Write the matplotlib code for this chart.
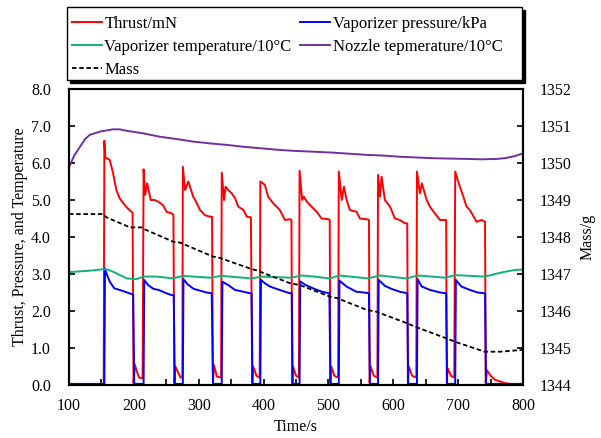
import matplotlib
matplotlib.use('Agg')
import matplotlib.pyplot as plt
from matplotlib.patches import Rectangle
from matplotlib.ticker import MultipleLocator

plt.rcParams['font.family'] = ['Liberation Serif', 'DejaVu Serif']
plt.rcParams['font.size'] = 11.5

# Thrust/mN (red)
t_thrust = [100, 153.5, 154.5, 156, 158, 163, 168, 173, 178, 186, 193, 198, 199.5, 201.5, 204, 208, 213.5,
            215, 217.5, 220.5, 226, 232, 238, 245, 250.5, 258, 261, 262.5, 264, 268, 272, 274.8,
            275.5, 279, 284, 291.5, 296, 302, 309.5, 317, 320.5, 322, 323.5, 328, 334.5,
            335.5, 339, 341.5, 345.5, 351, 356, 361, 369, 374, 380.5, 382.5, 384, 389, 394,
            395, 402, 407, 415, 425, 433, 441, 443, 444, 445.5, 450, 454.5,
            455.5, 459.5, 462, 467, 474, 482, 489.5, 500, 502, 503, 504.5, 509, 515,
            516, 520.5, 524, 528, 533, 543.5, 548.5, 559, 562.5, 563.5, 565, 570, 575.5,
            576.5, 579.5, 582, 587, 595, 602.5, 610, 618, 621.5, 622.5, 624, 629, 635.5,
            636.5, 641, 644, 651.5, 656.5, 664, 672, 681.5, 682.5, 684, 689, 694,
            695.5, 700, 708, 713, 718, 728.5, 736, 741.5, 742.5, 744.5, 750, 757, 772, 785, 800]
thrust = [0.0, 0.0, 6.6, 6.15, 6.13, 6.08, 5.72, 5.27, 5.05, 4.86, 4.73, 4.66, 0.05, 0.55, 0.4, 0.2, 0.18,
          5.83, 5.14, 5.45, 5.0, 5.0, 4.95, 4.86, 4.68, 4.64, 4.6, 0.05, 0.5, 0.35, 0.2, 0.2,
          5.9, 5.27, 5.5, 5.09, 4.95, 4.73, 4.59, 4.55, 4.55, 0.05, 0.54, 0.23, 0.2,
          5.74, 5.0, 5.36, 5.27, 5.18, 5.05, 4.82, 4.73, 4.55, 4.53, 0.05, 0.5, 0.25, 0.2,
          5.5, 5.41, 5.09, 4.91, 4.73, 4.46, 4.48, 4.46, 0.05, 0.5, 0.25, 0.2,
          5.79, 5.0, 5.09, 4.95, 4.82, 4.68, 4.5, 4.48, 4.46, 0.05, 0.5, 0.25, 0.2,
          5.77, 5.0, 5.36, 5.0, 4.73, 4.68, 4.5, 4.48, 4.46, 0.05, 0.5, 0.25, 0.2,
          5.68, 5.09, 5.63, 5.0, 4.82, 4.5, 4.46, 4.37, 4.37, 0.05, 0.5, 0.25, 0.2,
          5.77, 5.18, 5.45, 5.0, 4.82, 4.64, 4.46, 4.46, 0.05, 0.45, 0.25, 0.2,
          5.77, 5.5, 5.09, 4.82, 4.73, 4.41, 4.46, 4.41, 0.05, 0.4, 0.25, 0.14, 0.05, 0.02, 0.02]

# Vaporizer pressure/kPa (blue)
t_press = [100, 154.5, 155.5, 158, 163, 170, 178, 188, 196, 199, 200.5,
           215, 216, 222, 230, 238, 250, 258, 261.5, 263,
           275.5, 276.5, 283, 292, 302, 312, 320, 322,
           335.5, 336.5, 345.5, 356, 369, 379, 381.5, 383,
           395, 396, 402, 410, 418, 433, 441, 443.5, 445,
           455.5, 456.5, 465, 478, 490, 501.5, 503,
           516, 517, 528, 543, 555, 562.5, 564,
           576.5, 577.5, 587, 597, 610, 621.5, 623,
           636.5, 637.5, 644, 656.5, 672, 681.5, 683,
           695.5, 696.5, 705, 718, 730, 741.5, 743, 800]
press = [0.03, 0.03, 3.15, 3.0, 2.79, 2.61, 2.57, 2.51, 2.46, 2.45, 0.03,
         0.03, 2.84, 2.7, 2.6, 2.57, 2.48, 2.43, 2.43, 0.03,
         0.03, 2.86, 2.72, 2.6, 2.55, 2.5, 2.48, 0.03,
         0.03, 2.79, 2.7, 2.57, 2.52, 2.48, 2.48, 0.03,
         0.03, 2.84, 2.75, 2.66, 2.61, 2.52, 2.48, 2.48, 0.03,
         0.03, 2.8, 2.7, 2.6, 2.52, 2.48, 0.03,
         0.03, 2.82, 2.66, 2.52, 2.5, 2.48, 0.03,
         0.03, 2.84, 2.68, 2.6, 2.52, 2.48, 0.03,
         0.03, 2.86, 2.66, 2.57, 2.5, 2.48, 0.03,
         0.03, 2.84, 2.66, 2.57, 2.5, 2.48, 0.03, 0.03]

# Vaporizer temperature/10°C (green)
t_vtemp = [100, 132, 153, 160, 173, 189, 204, 214.6, 235, 261, 275, 317, 335, 382, 397, 443, 458, 478,
           502, 517, 561, 579, 620, 638, 680, 695, 741, 757, 772, 788, 800]
vtemp = [3.05, 3.09, 3.13, 3.12, 3.02, 2.88, 2.86, 2.93, 2.93, 2.88, 2.95, 2.9, 2.95, 2.88, 2.93, 2.9, 2.96, 2.93,
         2.88, 2.96, 2.88, 2.96, 2.88, 2.96, 2.9, 2.97, 2.93, 3.0, 3.06, 3.11, 3.12]

# Nozzle temperature/10°C (purple)
t_ntemp = [100, 108, 117, 125, 132, 148, 168, 178, 189, 215, 240, 265, 291, 317, 343, 368, 394, 420, 445,
           471, 507, 533, 559, 585, 610, 635, 661, 685, 713, 736, 760, 772, 788, 800]
ntemp = [5.88, 6.2, 6.44, 6.65, 6.76, 6.85, 6.91, 6.91, 6.87, 6.8, 6.71, 6.65, 6.58, 6.53, 6.49, 6.44, 6.4, 6.36, 6.33,
         6.31, 6.28, 6.25, 6.22, 6.2, 6.17, 6.15, 6.13, 6.12, 6.11, 6.1, 6.11, 6.13, 6.19, 6.26]

# Mass/g (right axis)
t_mass = [100, 152, 158, 194, 212, 215, 261, 271, 322, 330, 382, 389, 441, 456, 502, 513, 559, 574,
          621, 633, 682, 695, 741, 765, 800]
mass = [1348.62, 1348.62, 1348.53, 1348.26, 1348.26, 1348.22, 1347.87, 1347.85, 1347.47, 1347.45,
        1347.13, 1347.1, 1346.75, 1346.7, 1346.39, 1346.35, 1346.03, 1345.98, 1345.67, 1345.58,
        1345.26, 1345.17, 1344.9, 1344.9, 1344.95]

fig = plt.figure(figsize=(6.01, 4.38), dpi=100)
ax = fig.add_axes([69 / 601, 1 - 385 / 438, 454 / 601, 296 / 438])
ax2 = ax.twinx()

l1, = ax.plot(t_thrust, thrust, color='#FF0000', lw=1.4, label='Thrust/mN')
l2, = ax.plot(t_press, press, color='#0000FF', lw=1.4, label='Vaporizer pressure/kPa')
l3, = ax.plot(t_vtemp, vtemp, color='#12B07E', lw=1.4, label='Vaporizer temperature/10\u00b0C')
l4, = ax.plot(t_ntemp, ntemp, color='#7030A0', lw=1.4, label='Nozzle tepmerature/10\u00b0C')
l5, = ax2.plot(t_mass, mass, color='black', lw=1.3, ls=(0, (2.5, 1.5)), label='Mass')

ax.set_xlim(100, 800)
ax.set_ylim(0, 8)
ax2.set_ylim(1344, 1352)
ax.xaxis.set_major_locator(MultipleLocator(100))
ax.xaxis.set_minor_locator(MultipleLocator(50))
ax.yaxis.set_major_locator(MultipleLocator(1))
ax.yaxis.set_major_formatter(lambda v, p: '%.1f' % v)
ax2.yaxis.set_major_locator(MultipleLocator(1))

ax.tick_params(axis='x', which='both', direction='in', length=4, width=1.2, pad=9)
ax.tick_params(axis='y', direction='in', length=4, width=1.2, pad=13)
ax2.tick_params(axis='y', direction='in', length=4, width=1.2, pad=12)
for a in (ax, ax2):
    for s in a.spines.values():
        s.set_linewidth(1.5)

ax.set_xlabel('Time/s', labelpad=4)
ax.set_ylabel('Thrust, Pressure, and Temperature', labelpad=2)
ax2.set_ylabel('Mass/g', labelpad=6)

# legend box above the axes, with a dark shadow
fig.patches.append(Rectangle((70 / 601, 1 - 83 / 438), 455 / 601, 73 / 438, transform=fig.transFigure,
                             facecolor='black', edgecolor='black', zorder=0))
fig.patches.append(Rectangle((67 / 601, 1 - 80 / 438), 455 / 601, 73 / 438, transform=fig.transFigure,
                             facecolor='white', edgecolor='black', lw=1.0, zorder=1))
fig.legend(handles=[l1, l3, l5, l2, l4], ncol=2, loc='upper left', bbox_to_anchor=(67 / 601, 1 - 11 / 438),
           frameon=False, fontsize=12, handlelength=1.8, handletextpad=0.15, columnspacing=0.5,
           labelspacing=0.42, borderaxespad=0, borderpad=0.3)

fig.savefig('out.png', dpi=100)
